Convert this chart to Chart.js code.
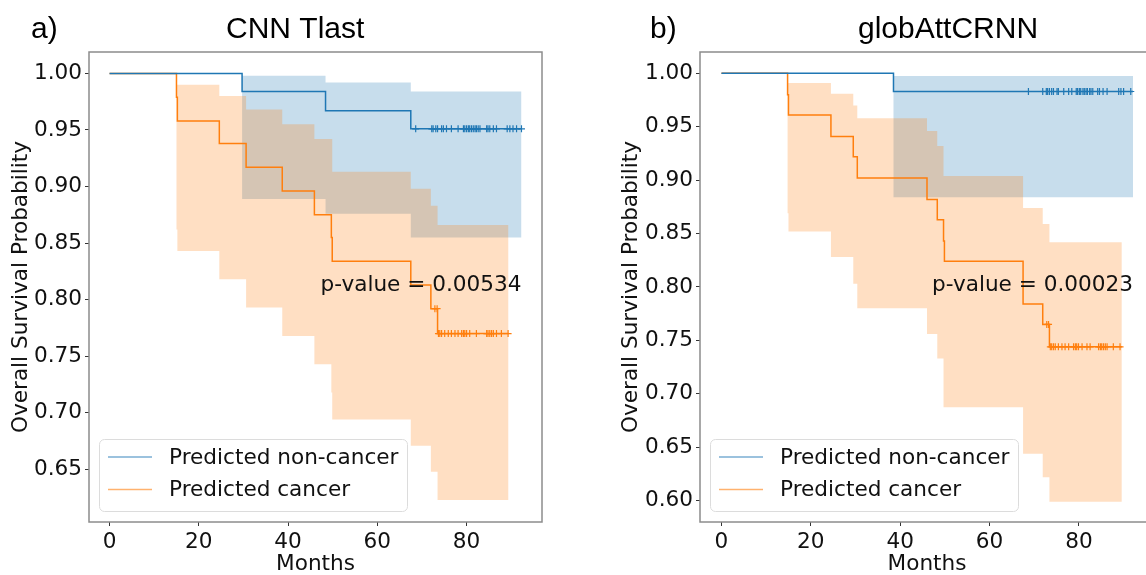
<!DOCTYPE html>
<html>
<head>
<meta charset="utf-8">
<script src="https://cdn.jsdelivr.net/npm/chart.js@4.4.1/dist/chart.umd.min.js"></script>
<style>
  html, body { margin: 0; padding: 0; background: #fff; overflow: hidden; width: 1146px; height: 575px; }
  canvas { position: absolute; top: 0; }
  #chartA { left: 0; }
  #chartB { left: 610px; }
</style>
</head>
<body>
<canvas id="chartA" width="573" height="575"></canvas>
<canvas id="chartB" width="600" height="575"></canvas>
<script>
// ---- panel a) CNN Tlast ----
var nonCancerTimesA = [0, 29.7, 48.4, 67.5, 92.3];
var nonCancerSurvA  = [1.0, 0.984, 0.967, 0.951, 0.951];
var nonCancerUpperA = [1.0, 0.998, 0.992, 0.984, 0.984];
var nonCancerLowerA = [1.0, 0.889, 0.876, 0.855, 0.855];
var nonCancerCensorA = [68.6, 72.2, 72.5, 73.1, 73.5, 74.4, 74.8, 75.5, 76.6, 78.1, 79.3, 79.6, 80.0, 80.4,
  80.7, 81.1, 81.5, 81.9, 82.2, 82.6, 83.0, 84.5, 84.8, 85.2, 86.0, 86.7, 89.1, 89.7, 90.4, 91.2, 92.3];

var cancerTimesA = [0, 15.0, 15.2, 24.6, 30.6, 38.7, 45.9, 49.7, 49.9, 67.5, 72.0, 73.5, 89.4];
var cancerSurvA  = [1.0, 0.979, 0.958, 0.938, 0.917, 0.896, 0.875, 0.855, 0.834, 0.813, 0.792, 0.770, 0.770];
var cancerUpperA = [1.0, 0.990, 0.990, 0.980, 0.968, 0.955, 0.942, 0.942, 0.913, 0.898, 0.883, 0.866, 0.866];
var cancerLowerA = [1.0, 0.862, 0.843, 0.818, 0.793, 0.768, 0.743, 0.718, 0.694, 0.671, 0.648, 0.623, 0.623];
var cancerCensorA = [72.9, 73.4, 73.7, 74.0, 74.4, 75.1, 75.9, 76.6, 77.4, 78.1, 78.9, 79.3, 79.6, 80.0,
  80.7, 82.2, 84.5, 84.8, 85.2, 85.6, 86.0, 86.7, 87.8, 89.3];

// ---- panel b) globAttCRNN ----
var nonCancerTimesB = [0, 38.5, 92.1];
var nonCancerSurvB  = [1.0, 0.983, 0.983];
var nonCancerUpperB = [1.0, 0.9975, 0.9975];
var nonCancerLowerB = [1.0, 0.884, 0.884];
var nonCancerCensorB = [68.7, 71.9, 72.7, 73.0, 73.4, 73.9, 74.3, 75.1, 75.4, 76.6, 77.7, 78.4, 79.4, 79.7,
  80.1, 80.4, 80.9, 81.2, 81.6, 81.9, 82.4, 82.7, 83.1, 84.2, 84.6, 85.4, 86.3, 88.9, 89.4, 90.0, 91.6];

var cancerTimesB = [0, 14.8, 15.0, 24.5, 29.5, 30.4, 46.0, 48.3, 49.7, 49.9, 67.5, 71.9, 73.4, 89.6];
var cancerSurvB  = [1.0, 0.980, 0.961, 0.941, 0.922, 0.902, 0.882, 0.863, 0.843, 0.824, 0.784, 0.765, 0.744, 0.744];
var cancerUpperB = [1.0, 0.991, 0.991, 0.981, 0.970, 0.958, 0.946, 0.932, 0.904, 0.904, 0.874, 0.859, 0.842, 0.842];
var cancerLowerB = [1.0, 0.869, 0.852, 0.828, 0.803, 0.780, 0.756, 0.733, 0.6875, 0.6875, 0.644, 0.622, 0.599, 0.599];
var cancerCensorB = [72.8, 73.2, 73.6, 73.9, 74.3, 74.7, 75.4, 76.2, 76.9, 77.7, 78.8, 79.2, 79.5, 79.9,
  80.7, 81.8, 82.5, 84.4, 84.8, 85.1, 85.5, 85.9, 86.3, 87.7, 89.2];

// ---- ticks / labels ----
var monthTicks = [0, 20, 40, 60, 80];
var survTicksA = [0.65, 0.70, 0.75, 0.80, 0.85, 0.90, 0.95, 1.00];
var survTicksB = [0.60, 0.65, 0.70, 0.75, 0.80, 0.85, 0.90, 0.95, 1.00];
var seriesLabels = ['Predicted non-cancer', 'Predicted cancer'];

var BLUE = '#1f77b4';
var ORANGE = '#ff7f0e';
var BLUE_CI = 'rgba(31,119,180,0.25)';
var ORANGE_CI = 'rgba(255,127,14,0.25)';
var FONT = 'DejaVu Sans';
var FONT_SIZE = 21.6;

function pts(times, vals) {
  return times.map((t, i) => ({ x: t, y: vals[i] }));
}

// survival value (step function) at a censoring time
function survAt(times, surv, t) {
  var v = surv[0];
  for (var i = 0; i < times.length; i++) {
    if (times[i] <= t) v = surv[i];
  }
  return v;
}

function censorPts(censor, times, surv) {
  return censor.map(t => ({ x: t, y: survAt(times, surv, t) }));
}

// ciOrder: higher = drawn earlier (blue band first, orange band over it)
function groupDatasets(label, color, ci, ciOrder, times, surv, upper, lower, censor) {
  return [
    { label: label + ' upper', data: pts(times, upper), stepped: true, borderWidth: 0,
      pointRadius: 0, fill: false, order: ciOrder },
    { label: label + ' lower', data: pts(times, lower), stepped: true, borderWidth: 0,
      pointRadius: 0, fill: '-1', backgroundColor: ci, order: ciOrder },
    { label: label, data: pts(times, surv), stepped: true, borderColor: color, borderWidth: 1.5,
      pointRadius: 0, fill: false, order: 2 },
    { label: label + ' censor', data: censorPts(censor, times, surv), showLine: false,
      pointStyle: 'cross', pointRadius: 3.5, borderColor: color, borderWidth: 1.2, order: 1 }
  ];
}

// frame, titles, legend and p-value text
var decorPlugin = {
  id: 'decor',
  afterDatasetsDraw(chart) {
    var c = chart.ctx, a = chart.chartArea, o = chart.options.plugins.decor;
    c.save();
    // axes frame
    c.strokeStyle = '#8c8c8c';
    c.lineWidth = 1.5;
    c.strokeRect(a.left, a.top, a.right - a.left, a.bottom - a.top);

    // p-value
    c.fillStyle = '#111';
    c.font = FONT_SIZE + 'px "' + FONT + '"';
    c.textBaseline = 'middle';
    c.textAlign = 'left';
    c.fillText(o.pText, a.left + 0.511 * (a.right - a.left), a.bottom - 0.504 * (a.bottom - a.top));

    // legend box
    var lx = a.left + 10, lw = 308, lh = 72, ly = a.bottom - 11 - lh;
    c.beginPath();
    c.roundRect(lx + 0.5, ly + 0.5, lw, lh, 5);
    c.fillStyle = 'rgba(255,255,255,0.8)';
    c.fill();
    c.strokeStyle = '#dcdcdc';
    c.lineWidth = 1;
    c.stroke();
    var colors = ['rgba(31,119,180,0.6)', 'rgba(255,127,14,0.6)'];
    seriesLabels.forEach((lab, i) => {
      var yy = ly + 18 + i * 32.5;
      c.strokeStyle = colors[i];
      c.lineWidth = 1.5;
      c.beginPath();
      c.moveTo(lx + 9, yy);
      c.lineTo(lx + 53, yy);
      c.stroke();
      c.fillStyle = '#111';
      c.fillText(lab, lx + 70, yy + 1);
    });

    // titles
    c.font = '30px "Liberation Sans"';
    c.textBaseline = 'alphabetic';
    c.fillStyle = '#000';
    c.fillText(o.tag, o.tagX, 38);
    c.fillText(o.title, o.titleX, 38);
    c.restore();
  }
};

function makeChart(id, cfg) {
  var tickFont = { family: FONT, size: FONT_SIZE };
  var datasets = groupDatasets(seriesLabels[0], BLUE, BLUE_CI, 4, cfg.nt, cfg.ns, cfg.nu, cfg.nl, cfg.nc)
    .concat(groupDatasets(seriesLabels[1], ORANGE, ORANGE_CI, 3, cfg.ct, cfg.cs, cfg.cu, cfg.cl, cfg.cc));
  return new Chart(document.getElementById(id), {
    type: 'line',
    data: { datasets: datasets },
    plugins: [decorPlugin],
    options: {
      responsive: false,
      animation: false,
      devicePixelRatio: 1,
      layout: { padding: { top: 52, right: cfg.padRight, bottom: 0, left: 0 } },
      plugins: {
        legend: { display: false },
        tooltip: { enabled: false },
        decor: { pText: cfg.pText, tag: cfg.tag, tagX: cfg.tagX, title: cfg.title, titleX: cfg.titleX }
      },
      scales: {
        x: {
          type: 'linear', min: cfg.xMin, max: cfg.xMax,
          afterFit: s => { s.height = 53; },
          afterBuildTicks: s => { s.ticks = monthTicks.map(v => ({ value: v })); },
          grid: { drawOnChartArea: false, drawTicks: true, tickLength: 4, color: '#333' },
          border: { display: false },
          ticks: { font: tickFont, color: '#111', padding: 3, maxRotation: 0 },
          title: { display: true, text: 'Months', font: { family: FONT, size: FONT_SIZE, lineHeight: 1.0 },
            color: '#111', padding: { top: 0, bottom: 0 } }
        },
        y: {
          type: 'linear', min: cfg.yMin, max: cfg.yMax,
          afterFit: s => { s.width = cfg.yWidth; },
          afterBuildTicks: s => { s.ticks = cfg.yTicks.map(v => ({ value: v })); },
          grid: { drawOnChartArea: false, drawTicks: true, tickLength: 4, color: '#333' },
          border: { display: false },
          ticks: { font: tickFont, color: '#111', padding: 3, callback: v => v.toFixed(2) },
          title: { display: true, text: 'Overall Survival Probability', font: tickFont, color: '#111',
            padding: { top: 8, bottom: 0 } }
        }
      }
    }
  });
}

makeChart('chartA', {
  nt: nonCancerTimesA, ns: nonCancerSurvA, nu: nonCancerUpperA, nl: nonCancerLowerA, nc: nonCancerCensorA,
  ct: cancerTimesA, cs: cancerSurvA, cu: cancerUpperA, cl: cancerLowerA, cc: cancerCensorA,
  xMin: -4.6, xMax: 96.9, yMin: 0.6035, yMax: 1.0189, yTicks: survTicksA,
  yWidth: 89, padRight: 31, pText: 'p-value = 0.00534',
  tag: 'a)', tagX: 31, title: 'CNN Tlast', titleX: 226
});

makeChart('chartB', {
  nt: nonCancerTimesB, ns: nonCancerSurvB, nu: nonCancerUpperB, nl: nonCancerLowerB, nc: nonCancerCensorB,
  ct: cancerTimesB, cs: cancerSurvB, cu: cancerUpperB, cl: cancerLowerB, cc: cancerCensorB,
  xMin: -4.8, xMax: 96.8, yMin: 0.58, yMax: 1.02, yTicks: survTicksB,
  yWidth: 90, padRight: 56, pText: 'p-value = 0.00023',
  tag: 'b)', tagX: 40, title: 'globAttCRNN', titleX: 248
});
</script>
</body>
</html>
